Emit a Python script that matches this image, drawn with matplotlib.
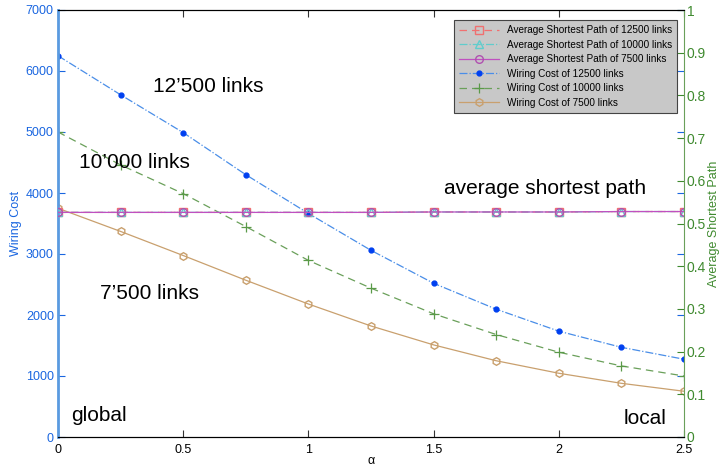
import matplotlib
matplotlib.use("Agg")
import matplotlib.pyplot as plt
import numpy as np

plt.rcParams['font.family'] = ['Liberation Sans', 'DejaVu Sans']

# dane
alpha = [0, 0.25, 0.5, 0.75, 1.0, 1.25, 1.5, 1.75, 2.0, 2.25, 2.5]
wc_12500 = [6250, 5610, 4990, 4300, 3665, 3060, 2520, 2095, 1735, 1470, 1275]
wc_10000 = [5000, 4460, 3990, 3450, 2895, 2440, 2020, 1680, 1390, 1165, 1000]
wc_7500 = [3750, 3370, 2975, 2570, 2180, 1820, 1510, 1250, 1045, 880, 750]
asp_12500 = [0.526, 0.526, 0.526, 0.526, 0.526, 0.526, 0.527, 0.527, 0.527, 0.528, 0.528]
asp_10000 = [0.526, 0.526, 0.526, 0.526, 0.526, 0.526, 0.527, 0.527, 0.527, 0.528, 0.528]
asp_7500 = [0.526, 0.526, 0.526, 0.526, 0.526, 0.526, 0.527, 0.527, 0.527, 0.528, 0.528]

blue = '#1a66e0'
green = '#3f8a2f'

fig = plt.figure(figsize=(7.19, 4.67), dpi=100)
ax = fig.add_axes([58/719, 30/467, 626/719, 427/467])
ax2 = ax.twinx()

# wiring cost (lewa os)
l4, = ax.plot(alpha, wc_12500, linestyle='-.', color='#4a8ee8', lw=0.9,
              marker='o', ms=3.5, mfc='#0040f0', mec='#0040f0')
l5, = ax.plot(alpha, wc_10000, linestyle='--', color='#6aa05a', lw=0.9,
              marker='+', ms=7, mew=0.9, mec='#5a9a48', dashes=(6, 4))
l6, = ax.plot(alpha, wc_7500, linestyle='-', color='#c9a06e', lw=0.9,
              marker='h', ms=5.5, mfc='none', mec='#c9a06e')

# average shortest path (prawa os)
l1, = ax2.plot(alpha, asp_12500, linestyle='--', color='#f07070', lw=0.9,
               marker='s', ms=5.5, mfc='none', mec='#f07070', dashes=(6, 4))
l2, = ax2.plot(alpha, asp_10000, linestyle='-.', color='#60cccc', lw=0.9,
               marker='^', ms=5.5, mfc='none', mec='#60cccc')
l3, = ax2.plot(alpha, asp_7500, linestyle='-', color='#c050c0', lw=0.9,
               marker='o', ms=5.5, mfc='none', mec='#b050b0')

ax.set_xlim(0, 2.5)
ax.set_ylim(0, 7000)
ax2.set_ylim(0, 1)
ax.set_xticks([0, 0.5, 1, 1.5, 2, 2.5])
ax.set_xticklabels(['0', '0.5', '1', '1.5', '2', '2.5'])
ax.set_yticks(range(0, 7001, 1000))
ax2.set_yticks(np.arange(0, 1.01, 0.1))
ax2.set_yticklabels(['0', '0.1', '0.2', '0.3', '0.4', '0.5', '0.6', '0.7', '0.8', '0.9', '1'])

ax.tick_params(axis='x', direction='in', top=True, labelsize=9, length=5, color='#333333', pad=5)
ax.tick_params(axis='y', direction='in', right=True, colors=blue, labelsize=9, length=5, pad=3)
ax2.tick_params(axis='y', direction='in', colors=green, labelsize=10, length=5, pad=2)

ax.spines['left'].set_color('#5a9ae0')
ax.spines['left'].set_linewidth(2)
ax2.spines['left'].set_visible(False)
ax2.spines['right'].set_color('#6aa05a')
ax.spines['right'].set_visible(False)

ax.set_xlabel('α', fontsize=9, labelpad=-1)
ax.set_ylabel('Wiring Cost', color=blue, fontsize=9, labelpad=3)
ax2.set_ylabel('Average Shortest Path', color=green, fontsize=9, labelpad=1)

# opisy
ax.text(0.38, 5740, '12’500 links', fontsize=15, va='center')
ax.text(0.084, 4500, '10’000 links', fontsize=15, va='center')
ax.text(0.168, 2360, '7’500 links', fontsize=15, va='center')
ax.text(1.54, 4080, 'average shortest path', fontsize=15, va='center')
ax.text(0.052, 360, 'global', fontsize=15, va='center')
ax.text(2.43, 310, 'local', fontsize=15, va='center', ha='right')

leg = ax2.legend([l1, l2, l3, l4, l5, l6],
                 ['Average Shortest Path of 12500 links',
                  'Average Shortest Path of 10000 links',
                  'Average Shortest Path of 7500 links',
                  'Wiring Cost of 12500 links',
                  'Wiring Cost of 10000 links',
                  'Wiring Cost of 7500 links'],
                 loc='upper right', bbox_to_anchor=(0.997, 0.988), fontsize=7.2,
                 fancybox=False, framealpha=1, facecolor='#c8c8c8', edgecolor='#444444',
                 handlelength=4, labelspacing=0.45, borderpad=0.5)
leg.get_frame().set_linewidth(0.8)

fig.savefig('out.png', dpi=100)
